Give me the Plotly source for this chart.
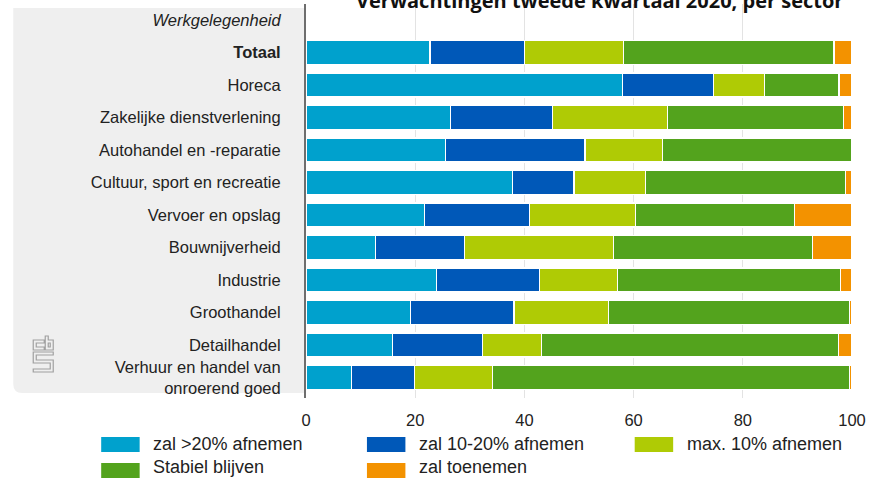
import plotly.graph_objects as go

# ---------------- data ----------------
HEADER = "Werkgelegenheid"
SECTORS = [
    "Totaal",
    "Horeca",
    "Zakelijke dienstverlening",
    "Autohandel en -reparatie",
    "Cultuur, sport en recreatie",
    "Vervoer en opslag",
    "Bouwnijverheid",
    "Industrie",
    "Groothandel",
    "Detailhandel",
    "Verhuur en handel van<br>onroerend goed",
]
SERIES = ["zal >20% afnemen", "zal 10-20% afnemen", "max. 10% afnemen",
          "Stabiel blijven", "zal toenemen"]
COLORS = ["#00A1CD", "#0058B8", "#AFCB05", "#53A31D", "#F39200"]

gt20 = [22.7, 57.9, 26.4, 25.6, 37.8, 21.7, 12.8, 23.9, 19.1, 15.8, 8.4]
r10_20 = [17.3, 16.7, 18.8, 25.5, 11.3, 19.2, 16.3, 18.8, 19.0, 16.5, 11.5]
max10 = [18.2, 9.4, 21.0, 14.2, 13.1, 19.4, 27.2, 14.4, 17.3, 10.9, 14.3]
stabiel = [38.5, 13.6, 32.2, 34.7, 36.6, 29.2, 36.5, 40.8, 44.2, 54.3, 65.4]
toenemen = [3.3, 2.4, 1.6, 0.0, 1.2, 10.5, 7.2, 2.1, 0.4, 2.5, 0.4]
VALUES = [gt20, r10_20, max10, stabiel, toenemen]

X_TICKS = [0, 20, 40, 60, 80, 100]
TITLE = "Verwachtingen tweede kwartaal 2020, per sector"

# ---------------- layout geometry ----------------
W, H = 869, 479
PL, PR, PT, PB = 306, 852.5, 4, 398   # plot area in pixels


def px(x):
    return (x - PL) / (PR - PL)


def py(y):
    return (PB - y) / (PB - PT)


ROWS = [HEADER] + SECTORS
ypos = [ROWS.index(s) for s in SECTORS]
row_h = 32.5
first_c = 20.0
y_top = (PT - first_c) / row_h
y_bot = (PB - first_c) / row_h

fig = go.Figure()
for name, color, vals in zip(SERIES, COLORS, VALUES):
    fig.add_trace(go.Bar(
        x=vals, y=ypos, orientation="h", name=name,
        marker=dict(color=color, line=dict(color="white", width=1.2)),
        showlegend=False,
    ))

ticktext = ["<i>" + HEADER + "</i>", "<b>" + SECTORS[0] + "</b>"] + SECTORS[1:]

shapes = []
# grey left panel with rounded bottom-left corner
r = 9
path = (f"M{px(13)},{py(8)} L{px(PL)},{py(8)} L{px(PL)},{py(393)} "
        f"L{px(13 + r)},{py(393)} Q{px(13)},{py(393)} {px(13)},{py(393 - r)} Z")
shapes.append(dict(type="path", xref="paper", yref="paper", path=path,
                   fillcolor="#EFEFEF", line=dict(width=0), layer="below"))


def pth(pts_list):
    s = ""
    for pts in pts_list:
        s += "M" + " L".join(f"{px(a)},{py(b)}" for a, b in pts) + " Z "
    return s


logo = pth([
    [(44, 340), (33, 340), (33, 350), (44, 350), (44, 347), (36, 347), (36, 343), (44, 343)],
    [(45, 336), (48, 336), (48, 340), (53, 340), (53, 350), (45, 350)],
    [(48, 343), (50, 343), (50, 347), (48, 347)],
    [(33, 352), (53, 352), (53, 355), (36, 355), (36, 360), (53, 360), (53, 372),
     (33, 372), (33, 369), (50, 369), (50, 363), (33, 363)],
])
shapes.append(dict(type="path", xref="paper", yref="paper", path=logo,
                   line=dict(color="#A0A0A0", width=1.2), layer="below"))

# legend (manual, large swatches)
leg_x = [101, 367, 635]
leg_y = [437, 463]
leg_text_y = [443.5, 467]
annotations = []
for i, (name, color) in enumerate(zip(SERIES, COLORS)):
    cx = leg_x[i % 3]
    cy = leg_y[i // 3]
    shapes.append(dict(type="rect", xref="paper", yref="paper",
                       x0=px(cx), x1=px(cx + 38.5), y0=py(cy), y1=py(cy + 15),
                       fillcolor=color, line=dict(width=0)))
    annotations.append(dict(xref="paper", yref="paper", x=px(cx + 51),
                            y=py(leg_text_y[i // 3]),
                            text=name, showarrow=False, xanchor="left", yanchor="middle",
                            borderpad=0,
                            font=dict(family="Liberation Sans, Arial, sans-serif",
                                      size=18, color="#222222")))

annotations.append(dict(xref="paper", yref="paper", x=px(600), y=py(16.5),
                        text="<b>" + TITLE + "</b>", showarrow=False,
                        xanchor="center", yanchor="bottom",
                        font=dict(family="Open Sans, sans-serif", size=20, color="#111111")))

fig.update_layout(
    width=W, height=H,
    margin=dict(l=PL, r=W - PR, t=PT, b=H - PB, pad=0),
    barmode="stack", bargap=0.26,
    paper_bgcolor="white", plot_bgcolor="rgba(0,0,0,0)",
    font=dict(family="Liberation Sans, Arial, sans-serif", size=16.5, color="#222222"),
    shapes=shapes, annotations=annotations,
    showlegend=False,
    xaxis=dict(range=[0, 100], tickvals=X_TICKS, showgrid=True, gridcolor="#E3E3E3",
               gridwidth=1, zeroline=False, showline=False, ticks="",
               ticklabelstandoff=10, tickfont=dict(size=16.5, color="#222222"),
               fixedrange=True),
    yaxis=dict(range=[y_bot, y_top], tickmode="array", tickvals=list(range(len(ROWS))),
               ticktext=ticktext, showgrid=False, zeroline=False, showline=True,
               linecolor="#6E6E6E", linewidth=2, ticks="", ticklabelstandoff=20,
               tickfont=dict(size=16.5, color="#222222"), fixedrange=True),
)

fig.write_html("out.html", config={"displayModeBar": False},
               post_script="document.body.style.margin='0px';document.body.style.overflow='hidden';")
